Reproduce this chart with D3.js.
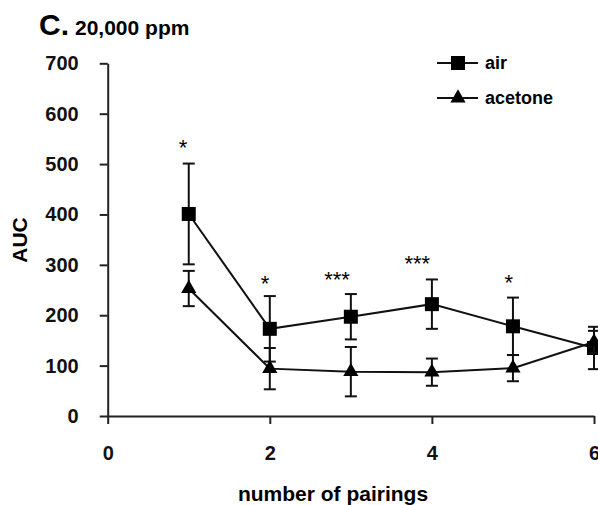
<!DOCTYPE html>
<meta charset="utf-8">
<style>
  body { margin: 0; background: #fff; }
  text { font-family: "Liberation Sans", Arial, Helvetica, sans-serif; }
</style>

<script src="https://d3js.org/d3.v7.min.js"></script>

<div id="chart"></div>

<script>

// data
var pairings = [1, 2, 3, 4, 5, 6];
var airMean = [401, 173, 197, 222, 178, 135];
var airErr = [100, 65, 45, 49, 57, 42];
var acetoneMean = [253, 94, 88, 87, 95, 147];
var acetoneErr = [35, 41, 49, 27, 26, 22];

var xTicks = [0, 2, 4, 6];
var yTicks = [0, 100, 200, 300, 400, 500, 600, 700];

// significance marks
var sigX = [0.93, 1.94, 2.83, 3.82, 4.95];
var sigY = [541, 272, 279, 311, 273];
var sigLabel = ["*", "*", "***", "***", "*"];

var width = 598, height = 505;

var svg = d3.select("#chart")
  .append("svg")
    .attr("width", width)
    .attr("height", height);

// scales
var x = d3.scaleLinear().domain([0, 6]).range([107.7, 594]);
var y = d3.scaleLinear().domain([0, 700]).range([416, 63.3]);

// axes
var xAxis = svg.append("g")
  .attr("transform", "translate(0," + y(0) + ")")
  .call(d3.axisBottom(x).tickValues(xTicks).tickFormat(d3.format("d"))
    .tickSize(8).tickSizeOuter(0).tickPadding(22));

var yAxis = svg.append("g")
  .attr("transform", "translate(" + x(0) + ",0)")
  .call(d3.axisLeft(y).tickValues(yTicks).tickFormat(d3.format("d"))
    .tickSize(8).tickSizeOuter(0).tickPadding(21));

svg.selectAll(".domain, .tick line")
  .attr("stroke", "#222")
  .attr("stroke-width", 2);

svg.selectAll(".tick text")
  .attr("fill", "#111")
  .style("font-size", "20px")
  .style("font-weight", "bold")
  .style("font-family", "'Liberation Sans', Arial, sans-serif");

// axis titles
svg.append("text")
  .attr("x", 333)
  .attr("y", 501)
  .attr("text-anchor", "middle")
  .style("font-size", "21px")
  .style("font-weight", "bold")
  .text("number of pairings");

svg.append("text")
  .attr("transform", "translate(27,240) rotate(-90)")
  .attr("text-anchor", "middle")
  .style("font-size", "21px")
  .style("font-weight", "bold")
  .text("AUC");

// panel title
var title = svg.append("text")
  .attr("x", 39)
  .attr("y", 35)
  .style("font-weight", "bold");
title.append("tspan").style("font-size", "30px").text("C.");
title.append("tspan").attr("dx", 6).style("font-size", "21px").text("20,000 ppm");

// series
var series = [
  { name: "air", mean: airMean, err: airErr, symbol: d3.symbolSquare, size: 196 },
  { name: "acetone", mean: acetoneMean, err: acetoneErr, symbol: d3.symbolTriangle, size: 100 }
];

var line = d3.line()
  .x(function(d) { return x(d[0]); })
  .y(function(d) { return y(d[1]); });

series.forEach(function(s) {
  var pts = pairings.map(function(p, i) { return [p, s.mean[i], s.err[i]]; });

  // error bars
  var eb = svg.append("g").selectAll("g")
    .data(pts)
    .enter().append("g")
    .attr("stroke", "#111")
    .attr("stroke-width", 2);
  eb.append("line")
    .attr("x1", function(d) { return x(d[0]); })
    .attr("x2", function(d) { return x(d[0]); })
    .attr("y1", function(d) { return y(d[1] + d[2]); })
    .attr("y2", function(d) { return y(d[1] - d[2]); });
  eb.append("line")
    .attr("x1", function(d) { return x(d[0]) - 6; })
    .attr("x2", function(d) { return x(d[0]) + 6; })
    .attr("y1", function(d) { return y(d[1] + d[2]); })
    .attr("y2", function(d) { return y(d[1] + d[2]); });
  eb.append("line")
    .attr("x1", function(d) { return x(d[0]) - 6; })
    .attr("x2", function(d) { return x(d[0]) + 6; })
    .attr("y1", function(d) { return y(d[1] - d[2]); })
    .attr("y2", function(d) { return y(d[1] - d[2]); });

  svg.append("path")
    .datum(pts)
    .attr("fill", "none")
    .attr("stroke", "#111")
    .attr("stroke-width", 2)
    .attr("d", line);

  svg.append("g").selectAll("path")
    .data(pts)
    .enter().append("path")
    .attr("transform", function(d) { return "translate(" + x(d[0]) + "," + y(d[1]) + ")"; })
    .attr("d", d3.symbol().type(s.symbol).size(s.size))
    .attr("fill", "#000");
});

// significance stars
svg.append("g").selectAll("text")
  .data(sigX)
  .enter().append("text")
  .attr("x", function(d) { return x(d); })
  .attr("y", function(d, i) { return y(sigY[i]) + 12; })
  .attr("text-anchor", "middle")
  .style("font-size", "22px")
  .text(function(d, i) { return sigLabel[i]; });

// legend
var legend = svg.append("g").selectAll("g")
  .data(series)
  .enter().append("g")
  .attr("transform", function(d, i) { return "translate(437," + (63 + i * 35) + ")"; });

legend.append("line")
  .attr("x1", 0).attr("x2", 41)
  .attr("stroke", "#111")
  .attr("stroke-width", 2);
legend.append("path")
  .attr("transform", "translate(21,0)")
  .attr("d", function(d) { return d3.symbol().type(d.symbol).size(d.size)(); })
  .attr("fill", "#000");
legend.append("text")
  .attr("x", 48)
  .attr("y", 6)
  .style("font-size", "18px")
  .style("font-weight", "bold")
  .text(function(d) { return d.name; });

</script>
